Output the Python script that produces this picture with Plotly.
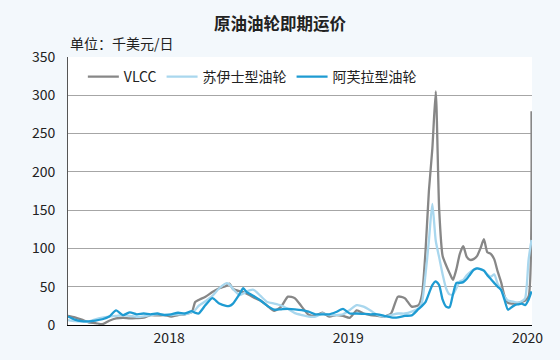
import plotly.graph_objects as go

dates = [
    "2017-06-09", "2017-06-23", "2017-07-07", "2017-07-21", "2017-08-04", "2017-08-18",
    "2017-09-01", "2017-09-15", "2017-09-29", "2017-10-13", "2017-10-27", "2017-11-10",
    "2017-11-24", "2017-12-08", "2017-12-22", "2018-01-05", "2018-01-19", "2018-02-02",
    "2018-02-16", "2018-02-23", "2018-03-02", "2018-03-16", "2018-03-30", "2018-04-13",
    "2018-04-27", "2018-05-04", "2018-05-11", "2018-05-25", "2018-06-01", "2018-06-08",
    "2018-06-22", "2018-07-06", "2018-07-20", "2018-08-03", "2018-08-17", "2018-08-31",
    "2018-09-14", "2018-09-28", "2018-10-12", "2018-10-26", "2018-11-09", "2018-11-23",
    "2018-12-07", "2018-12-21", "2019-01-04", "2019-01-18", "2019-02-01", "2019-02-15",
    "2019-03-01", "2019-03-15", "2019-03-29", "2019-04-12", "2019-04-26", "2019-05-10",
    "2019-05-24", "2019-05-31", "2019-06-07", "2019-06-14", "2019-06-21", "2019-06-28",
    "2019-07-05", "2019-07-12", "2019-07-19", "2019-07-26", "2019-08-02", "2019-08-09",
    "2019-08-16", "2019-08-23", "2019-08-30", "2019-09-06", "2019-09-13", "2019-09-20",
    "2019-09-27", "2019-10-04", "2019-10-11", "2019-10-18", "2019-10-25", "2019-11-01",
    "2019-11-08", "2019-11-15", "2019-11-22", "2019-11-29", "2019-12-06", "2019-12-13",
    "2019-12-20", "2019-12-27", "2020-01-03", "2020-01-09",
]

vlcc = [
    12, 10, 7, 3.5, 2.5, 1,
    5.5, 8.5, 9.5, 8.7, 9, 9.5,
    13, 12.5, 13, 11, 13, 14,
    16.6, 30, 32.7, 37, 43, 48,
    51, 54, 47, 44, 43, 41,
    36, 32, 25, 18.5, 24, 37,
    35, 24, 13.5, 12, 16, 11,
    13, 12, 9.5, 19, 15, 13,
    12, 11, 15, 37, 35, 24,
    26, 40, 95, 175, 230, 305,
    150, 90, 78, 68, 59, 73,
    93, 103, 89, 85, 86, 90,
    100, 112, 95, 93, 86, 70,
    56, 38, 29, 28, 28.5, 29,
    30, 32, 37, 279,
]

suezmax = [
    6.5, 5, 4.4, 4.4, 7.5, 9.6,
    11, 12, 13, 12, 10.5, 11.3,
    13, 14, 14, 13, 14, 14,
    16.6, 19.6, 25, 31, 38, 48,
    54.5, 53, 47, 39, 41, 44,
    46, 38, 30, 28, 25.5, 21,
    15.5, 13, 11, 11, 15, 13,
    13, 14, 19.6, 26, 24, 19,
    13, 11, 13, 15, 15, 17.5,
    22, 30, 65, 110, 158, 110,
    88, 66, 48, 40, 40, 48,
    57, 59, 65, 69, 72, 74,
    73, 71, 66, 63, 66, 54,
    46, 37, 32, 31, 30, 29,
    31, 35, 85, 111,
]

aframax = [
    11, 7, 5, 4.8, 5.8, 7.5,
    11, 19, 13, 16.5, 14, 15,
    14, 15, 13, 14, 16, 15,
    18, 16, 15, 26, 35, 28,
    25, 25, 28, 41, 48, 43,
    38, 32, 25, 20, 20.5, 21,
    20.5, 19.5, 17.5, 14, 14, 14,
    17, 21, 15, 15, 14.5, 14,
    14, 12, 10, 10, 12, 12.5,
    21, 25, 30, 41, 52, 57,
    52, 33, 24, 23, 40, 55,
    55, 56, 60, 66, 72, 74,
    73, 71, 65, 60, 55, 50,
    46, 33, 20, 23, 26, 27,
    28, 26, 33, 44,
]

series_names = ["VLCC", "苏伊士型油轮", "阿芙拉型油轮"]
series_colors = ["#878787", "#a9d7ee", "#1e9bd2"]
series_values = [vlcc, suezmax, aframax]

year_ticks = ["2018-01-01", "2019-01-01", "2020-01-01"]
year_labels = ["2018", "2019", "2020"]

font_family = "Noto Sans CJK SC"
page_bg = "#f3f8fc"

fig = go.Figure()
for name, color, vals in zip(series_names, series_colors, series_values):
    fig.add_trace(go.Scatter(
        x=dates, y=vals, mode="lines", name=name,
        line=dict(color=color, width=2.3, shape="spline", smoothing=0.6),
    ))

fig.update_layout(
    width=560, height=360,
    margin=dict(l=68, r=28, t=57, b=35),
    paper_bgcolor=page_bg,
    plot_bgcolor="#ffffff",
    font=dict(family=font_family, size=14, color="#222222"),
    title=dict(text="<b>原油油轮即期运价</b>", x=0.5, xanchor="center",
               y=0.932, yanchor="middle", font=dict(size=16.5, color="#222222")),
    showlegend=True,
    legend=dict(orientation="h", x=0.032, y=0.985, xanchor="left", yanchor="top",
                bgcolor="rgba(255,255,255,0)", font=dict(size=14),
                traceorder="normal", itemwidth=31),
    annotations=[dict(text="单位：千美元/日", xref="paper", yref="paper",
                      x=0, y=1.0, xanchor="left", yanchor="bottom", yshift=2,
                      showarrow=False, font=dict(size=14, color="#222222"))],
)

fig.update_xaxes(
    range=["2017-06-09", "2020-01-10"],
    tickvals=year_ticks, ticktext=year_labels,
    showgrid=False, showline=True, linecolor="#000000", linewidth=1,
    ticks="", zeroline=False, tickfont=dict(size=14),
)
fig.update_yaxes(
    range=[0, 350], dtick=50, showgrid=True, gridcolor="#a6a6a6", gridwidth=1,
    showline=True, linecolor="#555555", linewidth=1, zeroline=False,
    ticks="", tickfont=dict(size=14), ticklabelstandoff=9,
)

fig.write_html(
    "out.html",
    config={"displayModeBar": False},
    post_script="document.body.style.margin='0';document.body.style.background='" + page_bg + "';",
)
